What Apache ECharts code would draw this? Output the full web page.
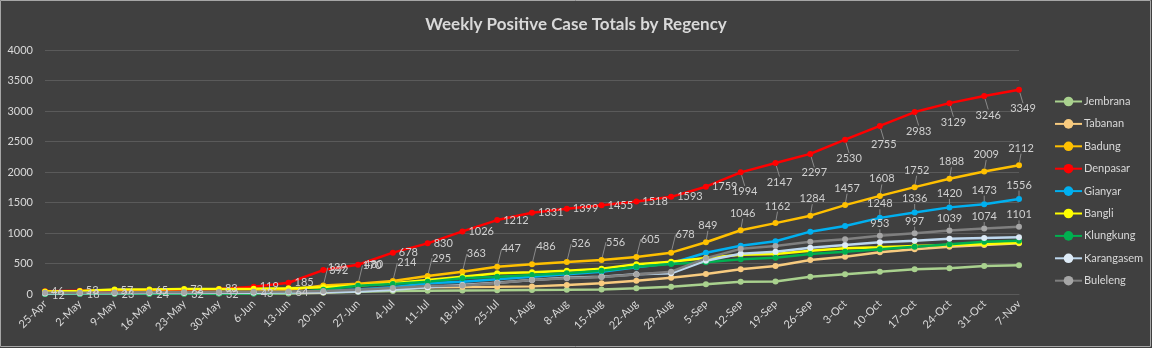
<!DOCTYPE html>
<html>
<head>
<meta charset="utf-8">
<script src="https://cdn.jsdelivr.net/npm/echarts@6/dist/echarts.min.js"></script>
<style>
  html, body { margin: 0; padding: 0; background: #404040; }
  #chart { width: 1152px; height: 348px; }
</style>
</head>
<body>
<div id="chart"></div>
<script>
const categories = ['25-Apr','2-May','9-May','16-May','23-May','30-May','6-Jun','13-Jun','20-Jun','27-Jun','4-Jul','11-Jul','18-Jul','25-Jul','1-Aug','8-Aug','15-Aug','22-Aug','29-Aug','5-Sep','12-Sep','19-Sep','26-Sep','3-Oct','10-Oct','17-Oct','24-Oct','31-Oct','7-Nov'];

const jembrana   = [3,4,5,5,6,7,8,10,20,35,50,55,58,60,65,68,75,95,120,159,202,205,284,322,366,404,421,459,470];
const tabanan    = [5,6,8,10,12,14,16,20,30,50,80,110,115,118,125,148,175,218,268,328,407,459,557,612,683,732,776,803,831];
const badung     = [12,18,23,24,32,32,43,64,139,170,214,295,363,447,486,526,556,605,678,849,1046,1162,1284,1457,1608,1752,1888,2009,2112];
const denpasar   = [46,53,57,65,72,83,119,185,392,480,678,830,1026,1212,1331,1399,1455,1518,1593,1759,1994,2147,2297,2530,2755,2983,3129,3246,3349];
const gianyar    = [8,10,12,14,16,18,22,30,50,75,110,175,202,240,284,322,366,437,503,677,790,865,1022,1115,1248,1336,1420,1473,1556];
const bangli     = [40,48,75,72,80,82,85,95,110,140,175,230,284,339,355,382,415,486,530,590,645,655,710,749,765,787,803,820,841];
const klungkung  = [2,3,4,5,6,8,10,20,70,136,164,202,257,284,311,339,382,448,493,520,568,595,656,694,732,776,814,858,874];
const karangasem = [10,12,14,16,18,20,22,25,30,40,70,110,148,186,230,268,284,322,339,546,660,694,759,803,847,874,907,918,929];
const buleleng   = [20,22,25,28,30,32,35,40,50,70,100,131,140,180,230,260,280,320,366,585,740,787,858,896,953,997,1039,1074,1101];

const yTicks = [0, 500, 1000, 1500, 2000, 2500, 3000, 3500, 4000];

const txt = '#D9D9D9';
const fontFam = 'Lato, "Liberation Sans", sans-serif';

const seriesDefs = [
  { name: 'Jembrana',   data: jembrana,   color: '#A9D18E', marker: '#A9D18E' },
  { name: 'Tabanan',    data: tabanan,    color: '#F8CB7F', marker: '#F8CB7F' },
  { name: 'Badung',     data: badung,     color: '#FFC000', marker: '#FFC000' },
  { name: 'Denpasar',   data: denpasar,   color: '#FF0000', marker: '#FF0000' },
  { name: 'Gianyar',    data: gianyar,    color: '#00B0F0', marker: '#00B0F0' },
  { name: 'Bangli',     data: bangli,     color: '#FFFF00', marker: '#FFFF00' },
  { name: 'Klungkung',  data: klungkung,  color: '#00B050', marker: '#00B050' },
  { name: 'Karangasem', data: karangasem, color: '#BDD7EE', marker: '#DEEBF7' },
  { name: 'Buleleng',   data: buleleng,   color: '#7F7F7F', marker: '#A6A6A6' }
];

// which points carry data labels; 'right' = text starts right of the point,
// otherwise off = offset of the label centre from the point (px), with a leader line
const labelRules = {
  Denpasar: [{ from: 0, to: 19, right: 6 }, { from: 20, to: 28, off: [4, 19] }],
  Badung:   [{ from: 0, to: 7, right: 7, dy: 2 }, { from: 8, to: 18, off: [14, -18] }, { from: 19, to: 28, off: [2, -17] }],
  Gianyar:  [{ from: 24, to: 28, off: [0, -14] }],
  Buleleng: [{ from: 24, to: 28, off: [0, -12] }]
};

function ruleFor(name, i) {
  const rules = labelRules[name] || [];
  return rules.find(r => i >= r.from && i <= r.to);
}

function buildData(def) {
  return def.data.map((v, i) => {
    const r = ruleFor(def.name, i);
    if (!r) return v;
    return { value: v, label: { show: true }, labelLine: { show: r.right === undefined } };
  });
}

const series = seriesDefs.map(def => ({
  name: def.name,
  type: 'line',
  data: buildData(def),
  symbol: 'circle',
  symbolSize: 6,
  showSymbol: true,
  lineStyle: { color: def.color, width: 2.5 },
  itemStyle: { color: def.marker, borderWidth: 0 },
  label: {
    show: false,
    position: 'inside',
    color: '#D0D0D0',
    fontSize: 11,
    fontFamily: fontFam
  },
  labelLine: { show: false, lineStyle: { color: '#8A8A8A', width: 1 } },
  labelLayout: function (params) {
    const r = ruleFor(def.name, params.dataIndex);
    if (!r) return {};
    if (r.right !== undefined) {
      return { dx: params.labelRect.width / 2 + r.right, dy: r.dy || 0 };
    }
    return { dx: r.off[0], dy: r.off[1] };
  },
  emphasis: { disabled: true },
  animation: false
}));

const chart = echarts.init(document.getElementById('chart'), null, { renderer: 'canvas' });
chart.setOption({
  backgroundColor: '#404040',
  animation: false,
  graphic: [{
    type: 'rect',
    silent: true,
    shape: { x: 0.5, y: 0.5, width: 1150, height: 346 },
    style: { fill: 'none', stroke: '#A6A6A6', lineWidth: 1 }
  }],
  title: {
    text: 'Weekly Positive Case Totals by Regency',
    left: 'center',
    top: 11,
    textStyle: { color: txt, fontSize: 17, fontWeight: 'bold', fontFamily: fontFam }
  },
  legend: {
    orient: 'vertical',
    left: 1049,
    top: 91,
    itemWidth: 27,
    itemHeight: 12,
    itemGap: 11.4,
    textStyle: { color: txt, fontSize: 11, fontFamily: fontFam, padding: [0, 0, 0, -3] },
    data: seriesDefs.map(d => d.name)
  },
  grid: { left: 45, right: 133, top: 50, bottom: 54, containLabel: false },
  xAxis: {
    type: 'category',
    data: categories,
    boundaryGap: false,
    axisLine: { show: true, lineStyle: { color: '#5A5A5A' } },
    axisTick: { show: false },
    axisLabel: { color: txt, fontSize: 11, fontFamily: fontFam, rotate: 45, margin: 8, interval: 0 },
    splitLine: { show: false }
  },
  yAxis: {
    type: 'value',
    min: yTicks[0],
    max: yTicks[yTicks.length - 1],
    interval: yTicks[1] - yTicks[0],
    axisLine: { show: false },
    axisTick: { show: false },
    axisLabel: { color: txt, fontSize: 11, fontFamily: fontFam, margin: 12, formatter: v => String(v) },
    splitLine: { show: true, lineStyle: { color: '#5A5A5A', width: 1 } }
  },
  series: series
});
</script>
</body>
</html>
